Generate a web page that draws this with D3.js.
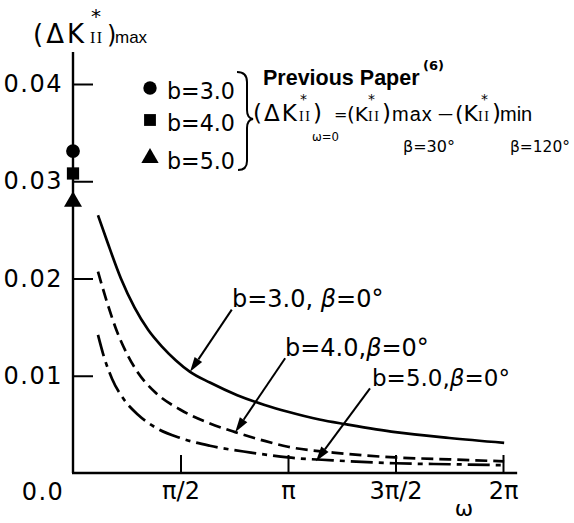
<!DOCTYPE html>
<html>
<head>
<meta charset="utf-8">
<script src="https://cdn.jsdelivr.net/npm/d3@7"></script>
<style>
  body { margin: 0; background: #fff; }
  svg { display: block; }
  text { font-family: "DejaVu Sans", sans-serif; fill: #000; }
</style>
</head>
<body>
<div id="chart"></div>
<script>
// curves: omega (rad) vs (dK*II)max
const omegaB3 = [0.365, 0.5, 0.7, 0.9, 1.1, 1.3, 1.5, 1.71, 2.0, 2.4, 2.8, 3.14, 3.6, 4.0, 4.71, 5.5, 6.3];
const dkB3    = [0.0265, 0.0238, 0.0200, 0.0170, 0.0147, 0.0130, 0.0116, 0.0104, 0.0093, 0.0080, 0.0070, 0.0063, 0.0055, 0.0050, 0.0042, 0.0036, 0.0031];
const omegaB4 = [0.365, 0.5, 0.64, 0.8, 0.95, 1.2, 1.57, 2.0, 2.37, 2.8, 3.14, 3.8, 4.71, 5.5, 6.3];
const dkB4    = [0.0207, 0.0175, 0.0146, 0.0121, 0.0103, 0.0083, 0.0065, 0.0051, 0.0042, 0.0033, 0.0027, 0.0021, 0.0016, 0.0014, 0.0012];
const omegaB5 = [0.365, 0.45, 0.57, 0.75, 0.95, 1.2, 1.57, 2.0, 2.6, 3.14, 3.8, 4.71, 5.5, 6.3];
const dkB5    = [0.0142, 0.0120, 0.0097, 0.0075, 0.0060, 0.0047, 0.0036, 0.0028, 0.0021, 0.0016, 0.0013, 0.0010, 0.0009, 0.0008];

// previous paper values at omega = 0
const prevLabels = ["b=3.0", "b=4.0", "b=5.0"];
const prevValues = [0.0331, 0.0308, 0.0279];

const yTicks = [0.01, 0.02, 0.03, 0.04];
const xTicks = [Math.PI / 2, Math.PI, 3 * Math.PI / 2, 2 * Math.PI];
const xTickLabels = ["\u03c0/2", "\u03c0", "3\u03c0/2", "2\u03c0"];

const W = 574, H = 523;
const svg = d3.select("#chart").append("svg")
    .attr("width", W).attr("height", H);

const x = d3.scaleLinear().domain([0, 2 * Math.PI]).range([73, 503]);
const y = d3.scaleLinear().domain([0, 0.04]).range([473, 84]);

const LIB = "'Liberation Sans', Arial, sans-serif";
const SERIF = "'Liberation Serif', serif";

// shrink the font when the text is wider than the room it has
function fit(sel, size, target) {
    if (!target) return;
    const w = sel.node().getComputedTextLength();
    if (w > target) sel.style("font-size", (size * target / w).toFixed(2) + "px");
}

// one <text> made of absolutely placed tspans: [x, y, str, size, {len, fam, ls}]
function multi(parts, o) {
    o = o || {};
    const t = svg.append("text");
    if (o.bold) t.style("font-weight", "bold");
    if (o.fam) t.style("font-family", o.fam);
    parts.forEach(p => {
        const po = p[4] || {};
        const s = t.append("tspan")
            .attr("x", p[0]).attr("y", p[1])
            .style("font-size", p[3] + "px")
            .text(p[2]);
        if (po.fam) s.style("font-family", po.fam);
        if (po.ls) s.style("letter-spacing", po.ls + "px");
        fit(s, p[3], po.len);
    });
    return t;
}

// axes
svg.append("line")
    .attr("x1", x(0)).attr("x2", x(0))
    .attr("y1", y(0)).attr("y2", y(0.0433))
    .attr("stroke", "#000").attr("stroke-width", 2.4);
svg.append("line")
    .attr("x1", x(0) - 1).attr("x2", x(6.49))
    .attr("y1", y(0)).attr("y2", y(0))
    .attr("stroke", "#000").attr("stroke-width", 2.4);

const yAxis = svg.append("g")
    .attr("transform", `translate(${x(0)},0)`)
    .call(d3.axisLeft(y).tickValues(yTicks).tickSize(-20).tickPadding(10)
        .tickFormat(d3.format(".2f")));
yAxis.select(".domain").remove();
yAxis.selectAll("line").attr("stroke", "#000").attr("stroke-width", 2);
yAxis.selectAll("text").attr("fill", "#000")
    .style("font-size", "24px").style("font-family", "DejaVu Sans, sans-serif")
    .style("letter-spacing", "1.5px");

const xAxis = svg.append("g")
    .attr("transform", `translate(0,${y(0)})`)
    .call(d3.axisBottom(x).tickValues(xTicks).tickSize(-18).tickPadding(9)
        .tickFormat((d, i) => xTickLabels[i]));
xAxis.select(".domain").remove();
xAxis.selectAll("line").attr("stroke", "#000").attr("stroke-width", 2);
xAxis.selectAll("text").attr("fill", "#000")
    .style("font-size", "24px").style("font-family", "DejaVu Sans, sans-serif");

svg.append("text").attr("x", 43).attr("y", 500).attr("text-anchor", "middle")
    .style("font-size", "24px").style("letter-spacing", "1.5px").text("0.0");
svg.append("text").attr("x", 464).attr("y", 516).attr("text-anchor", "middle")
    .style("font-size", "22px").text("\u03c9");

// curves
const line = d3.line().x(d => x(d[0])).y(d => y(d[1])).curve(d3.curveMonotoneX);
const series = [
    { om: omegaB3, v: dkB3, dash: null },
    { om: omegaB4, v: dkB4, dash: "12,6" },
    { om: omegaB5, v: dkB5, dash: "22,6,5,6" }
];
series.forEach(s => {
    svg.append("path")
        .datum(d3.zip(s.om, s.v))
        .attr("d", line)
        .attr("fill", "none")
        .attr("stroke", "#000")
        .attr("stroke-width", 2.7)
        .attr("stroke-dasharray", s.dash);
});

// markers at omega = 0
const shapes = [d3.symbolCircle, d3.symbolSquare, d3.symbolTriangle];
const sizes = [150, 150, 140];
svg.selectAll(".prev")
    .data(prevValues)
    .enter().append("path")
    .attr("class", "prev")
    .attr("transform", d => `translate(${x(0)},${y(d)})`)
    .attr("d", (d, i) => d3.symbol().type(shapes[i]).size(sizes[i])());

// legend
const legY = [88, 120, 158];
prevLabels.forEach((lab, i) => {
    svg.append("path")
        .attr("transform", `translate(150,${legY[i]})`)
        .attr("d", d3.symbol().type(shapes[i]).size(sizes[i] - 10)());
    multi([[167, legY[i] + 11, lab, 23, { len: 68 }]]);
});
const brace = d3.path();
brace.moveTo(237, 72);
brace.quadraticCurveTo(247, 72, 247, 82);
brace.lineTo(247, 110);
brace.quadraticCurveTo(247, 118, 253, 119);
brace.quadraticCurveTo(247, 120, 247, 128);
brace.lineTo(247, 161);
brace.quadraticCurveTo(247, 170, 238, 170);
svg.append("path").attr("d", brace.toString())
    .attr("fill", "none").attr("stroke", "#000").attr("stroke-width", 2);

// y axis title (dK*II)max
multi([
    [33, 43, "(\u0394K", 26, { ls: 3, len: 56 }],
    [91, 23, "*", 20],
    [90, 43, "II", 16, { fam: SERIF, ls: 1.5 }],
    [107, 43, ")", 24],
    [115, 43, "max", 17, { fam: LIB, len: 33 }]
]);

// previous paper note
multi([[263, 85, "Previous Paper", 21.5, { len: 157 }]], { bold: true, fam: LIB });
multi([[423, 70, "(6)", 13, { len: 24 }]], { bold: true });

multi([
    [253, 121, "(\u0394K", 23, { ls: 2, len: 47 }],
    [300, 104, "*", 14],
    [299, 121, "II", 14, { fam: SERIF, ls: 1.5 }],
    [313, 121, ")", 23],
    [312, 141, "\u03c9=0", 12, { len: 27 }],
    [334, 120, "=", 16],
    [347, 121, "(K", 22, { len: 21 }],
    [368, 104, "*", 14],
    [368, 121, "II", 14, { fam: SERIF, ls: 1.5 }],
    [382, 121, ")", 23],
    [392, 121, "max", 20, { fam: LIB, ls: 1, len: 44 }],
    [403, 152, "\u03b2=30\u00b0", 16, { len: 56 }],
    [438, 119, "\u2014", 16, { len: 15 }],
    [455, 121, "(K", 22, { len: 23 }],
    [481, 104, "*", 14],
    [478, 121, "II", 14, { fam: SERIF, ls: 1.5 }],
    [492, 121, ")", 23],
    [500, 121, "min", 20, { fam: LIB, len: 34 }],
    [510, 152, "\u03b2=120\u00b0", 16, { len: 60 }]
]);

// curve labels with arrows (tip on the curve, tail at the label)
const arrows = [
    { from: [2.32, 0.0168], to: [1.71, 0.0104], label: "b=3.0, ", lx: 232, ly: 307, len: 156 },
    { from: [3.10, 0.0118], to: [2.37, 0.0042], label: "b=4.0,", lx: 285, ly: 356, len: 146 },
    { from: [4.34, 0.0087], to: [3.55, 0.0012], label: "b=5.0,", lx: 372, ly: 386, len: 138 }
];
arrows.forEach(a => {
    const x1 = x(a.from[0]), y1 = y(a.from[1]), x2 = x(a.to[0]), y2 = y(a.to[1]);
    const ang = Math.atan2(y2 - y1, x2 - x1);
    const L = 15, hw = 4.5;
    const bx = x2 - L * Math.cos(ang), by = y2 - L * Math.sin(ang);
    svg.append("line")
        .attr("x1", x1).attr("y1", y1).attr("x2", bx).attr("y2", by)
        .attr("stroke", "#000").attr("stroke-width", 2);
    svg.append("path")
        .attr("d", `M${x2},${y2}L${bx - hw * Math.sin(ang)},${by + hw * Math.cos(ang)}L${bx + hw * Math.sin(ang)},${by - hw * Math.cos(ang)}Z`)
        .attr("fill", "#000");
    const t = svg.append("text").attr("x", a.lx).attr("y", a.ly)
        .style("font-size", "24px");
    t.append("tspan").text(a.label);
    t.append("tspan").style("font-style", "italic").text("\u03b2");
    t.append("tspan").text("=0\u00b0");
    fit(t, 24, a.len);
});
</script>
</body>
</html>
